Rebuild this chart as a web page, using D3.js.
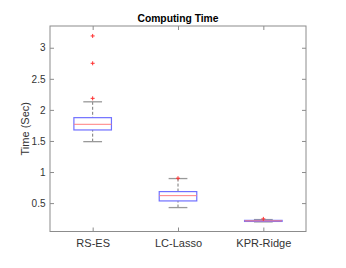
<!DOCTYPE html>
<html>
<head>
<meta charset="utf-8">
<script src="https://cdn.jsdelivr.net/npm/d3@7"></script>
<style>
  body { margin: 0; background: #fff; }
  text { font-family: "Liberation Sans", Arial, sans-serif; }
</style>
</head>
<body>
<div id="chart"></div>
<script>
// data
const categories = ["RS-ES", "LC-Lasso", "KPR-Ridge"];
const q1 = [1.677, 0.535, 0.205];
const median = [1.768, 0.62, 0.214];
const q3 = [1.875, 0.685, 0.222];
const whiskerLow = [1.489, 0.428, 0.198];
const whiskerHigh = [2.13, 0.895, 0.235];
const outliers = [[2.186, 2.75, 3.19], [0.9], [0.246]];
const yTicks = [0.5, 1, 1.5, 2, 2.5, 3];

const W = 346, H = 268;
const margin = { top: 26, right: 40, bottom: 36.5, left: 50 };
const width = W - margin.left - margin.right;
const height = H - margin.top - margin.bottom;

const svg = d3.select("#chart").append("svg")
    .attr("width", W)
    .attr("height", H);

const g = svg.append("g")
    .attr("transform", `translate(${margin.left},${margin.top})`);

const x = d3.scaleLinear()
    .domain([0.5, 3.5])
    .range([0, width]);

const y = d3.scaleLinear()
    .domain([0.043, 3.35])
    .range([height, 0]);

const boxes = categories.map((c, i) => ({
    c, i: i + 1, q1: q1[i], med: median[i], q3: q3[i],
    lo: whiskerLow[i], hi: whiskerHigh[i], out: outliers[i]
}));

const axisColor = "#8c8c8c";
const textColor = "#333";

// frame
g.append("rect")
    .attr("width", width)
    .attr("height", height)
    .attr("fill", "none")
    .attr("stroke", axisColor)
    .attr("stroke-width", 1);

// y axes (ticks inward on both sides)
const yAxis = g.append("g")
    .call(d3.axisLeft(y).tickValues(yTicks).tickSize(-4).tickPadding(4.5).tickFormat(d3.format("")));
const yAxisR = g.append("g")
    .attr("transform", `translate(${width},0)`)
    .call(d3.axisRight(y).tickValues(yTicks).tickSize(-4).tickFormat(""));

const xAxis = g.append("g")
    .attr("transform", `translate(0,${height})`)
    .call(d3.axisBottom(x).tickValues([1, 2, 3]).tickSize(-4).tickPadding(7.5)
        .tickFormat(d => categories[d - 1]));
const xAxisT = g.append("g")
    .call(d3.axisTop(x).tickValues([1, 2, 3]).tickSize(-4).tickFormat(""));

[yAxis, yAxisR, xAxis, xAxisT].forEach(a => {
    a.select(".domain").remove();
    a.selectAll(".tick line").attr("stroke", axisColor);
    a.selectAll(".tick text")
        .attr("fill", textColor)
        .style("font-size", "10px");
});
xAxis.selectAll(".tick text").style("font-size", "11px");

// whiskers
const capHalf = 0.11, boxHalf = 0.22;
g.selectAll(".whisker")
    .data(boxes.flatMap(b => [[b, b.hi, b.q3], [b, b.lo, b.q1]]))
    .join("line")
    .attr("x1", d => x(d[0].i))
    .attr("x2", d => x(d[0].i))
    .attr("y1", d => y(d[1]))
    .attr("y2", d => y(d[2]))
    .attr("stroke", "#555")
    .attr("stroke-width", 0.8)
    .attr("stroke-dasharray", "3,2");

g.selectAll(".cap")
    .data(boxes.flatMap(b => [[b, b.hi], [b, b.lo]]))
    .join("line")
    .attr("x1", d => x(d[0].i - capHalf))
    .attr("x2", d => x(d[0].i + capHalf))
    .attr("y1", d => y(d[1]))
    .attr("y2", d => y(d[1]))
    .attr("stroke", "#999")
    .attr("stroke-width", 1.3);

// boxes
g.selectAll(".box")
    .data(boxes)
    .join("rect")
    .attr("x", d => x(d.i - boxHalf))
    .attr("width", d => x(d.i + boxHalf) - x(d.i - boxHalf))
    .attr("y", d => y(d.q3))
    .attr("height", d => y(d.q1) - y(d.q3))
    .attr("fill", "none")
    .attr("stroke", "#7070ff")
    .attr("stroke-width", 1.2);

// medians
g.selectAll(".median")
    .data(boxes)
    .join("line")
    .attr("x1", d => x(d.i - boxHalf))
    .attr("x2", d => x(d.i + boxHalf))
    .attr("y1", d => y(d.med))
    .attr("y2", d => y(d.med))
    .attr("stroke", "#ff7f7f")
    .attr("stroke-width", 1);

// outliers
g.selectAll(".outlier")
    .data(boxes.flatMap(b => b.out.map(v => [b.i, v])))
    .join("path")
    .attr("d", d => {
        const cx = x(d[0]), cy = y(d[1]), r = 2;
        return `M${cx - r},${cy}H${cx + r}M${cx},${cy - r}V${cy + r}`;
    })
    .attr("stroke", "#ff3030")
    .attr("stroke-width", 1);

// title
svg.append("text")
    .attr("x", margin.left + width / 2)
    .attr("y", 22)
    .attr("text-anchor", "middle")
    .attr("font-weight", "bold")
    .style("font-size", "10.3px")
    .attr("fill", "#000")
    .text("Computing Time");

// y label
svg.append("text")
    .attr("transform", `translate(29,${margin.top + height / 2}) rotate(-90)`)
    .attr("text-anchor", "middle")
    .style("font-size", "11px")
    .attr("fill", textColor)
    .text("Time (Sec)");
</script>
</body>
</html>
